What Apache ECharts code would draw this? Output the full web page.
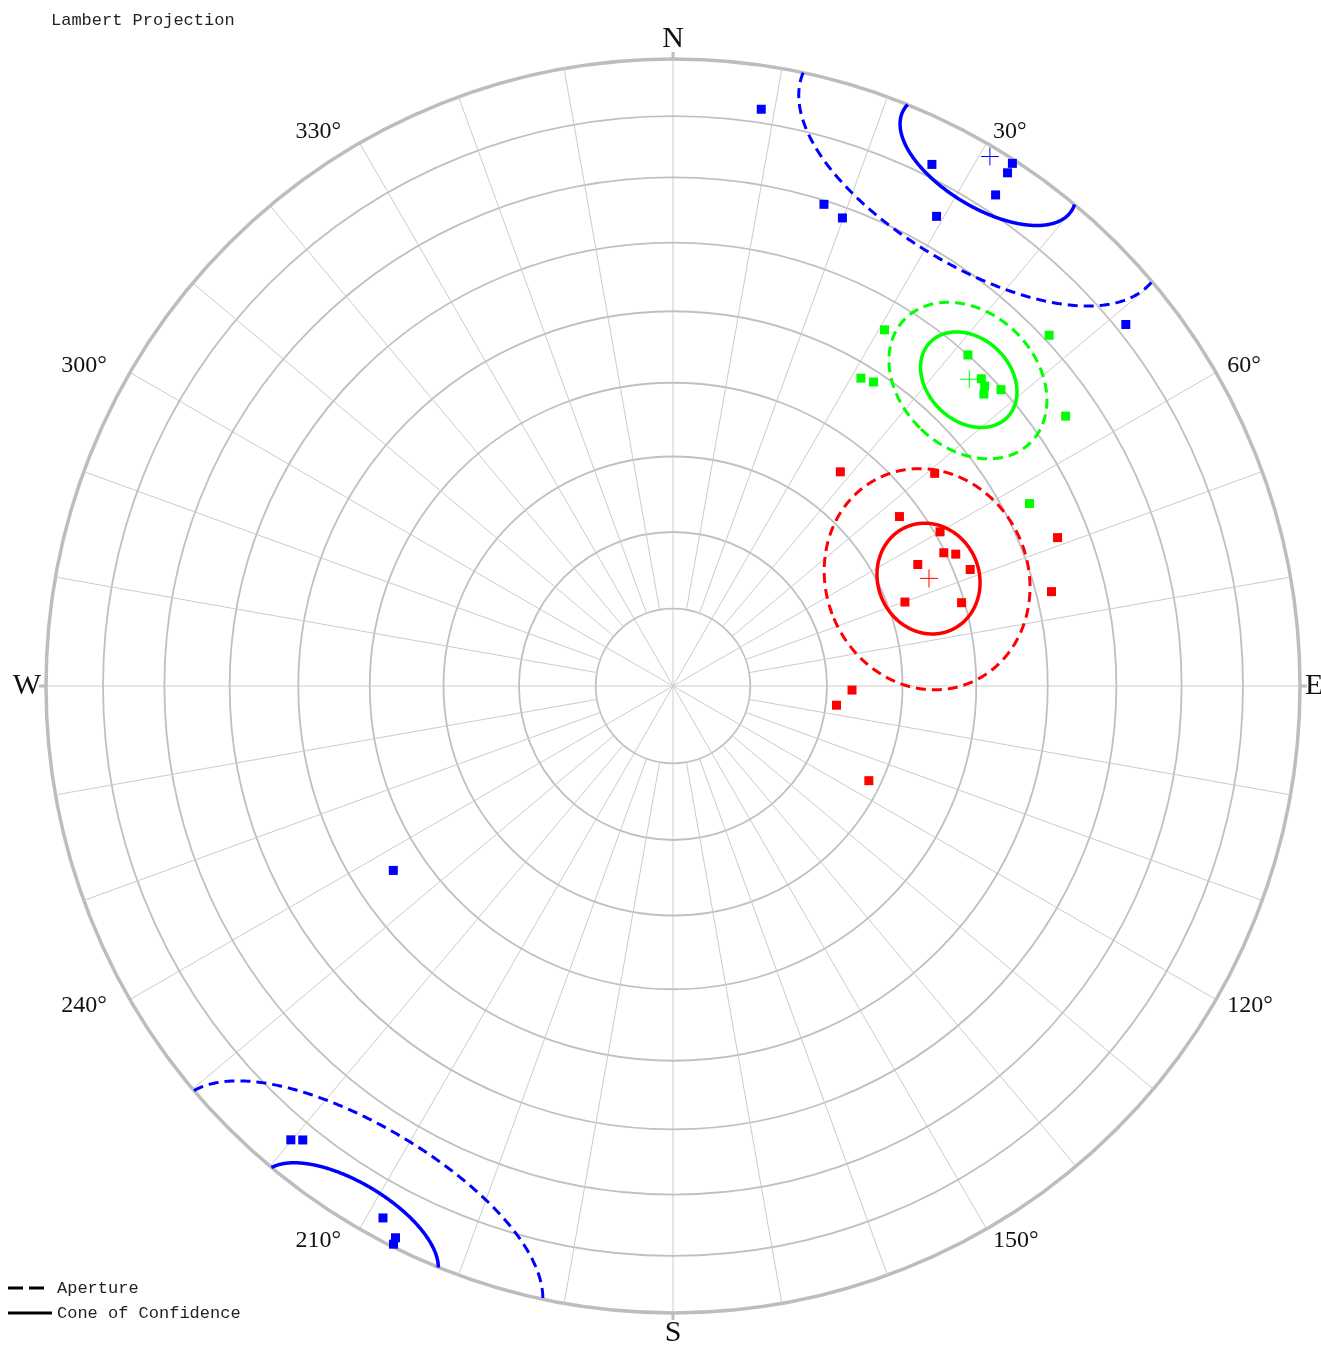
<!DOCTYPE html>
<html>
<head>
<meta charset="utf-8">
<title>Lambert Projection</title>
<script src="https://cdn.jsdelivr.net/npm/echarts@6/dist/echarts.min.js"></script>
<style>
  html, body { margin: 0; padding: 0; background: #fff; }
  #chart { width: 1321px; height: 1345px; }
</style>
</head>
<body>
<div id="chart"></div>
<script>
// directions, [declination, inclination] in degrees
const blueDirs = [
  [8.7, 7.7], [26.4, 7.9], [33.0, 0.7], [33.1, 2.6], [33.3, 7.0],
  [17.4, 20.6], [19.9, 21.7], [29.3, 15.2], [51.4, 8.4], [236.6, 45.6],
  [220.1, 6.0], [219.2, 7.3], [208.6, 3.8], [206.7, 1.7], [206.6, 0.5]
];
const greenDirs = [
  [30.7, 34.3], [47.0, 19.1], [41.7, 30.0], [31.4, 42.0], [33.4, 41.5],
  [45.1, 31.2], [46.1, 31.6], [46.8, 32.5], [47.9, 30.2], [55.5, 25.0],
  [62.9, 36.3]
];
const redDirs = [
  [38.0, 54.3], [50.9, 45.3], [53.2, 52.8], [60.0, 49.3], [63.8, 50.2],
  [65.0, 48.8], [63.6, 54.1], [68.6, 47.8], [68.9, 34.6], [70.1, 57.7],
  [73.9, 50.4], [76.0, 37.8], [91.3, 66.7], [96.7, 68.6], [115.8, 61.6]
];

// group means [dec, inc] and circle radii (degrees)
const groupMeans = [[30.9, 1.8], [44.0, 32.5], [67.2, 53.5]];
const coneAlpha = [9.1, 6.1, 6.9];
const apertureAlpha = [19.0, 10.0, 13.8];
const groupColors = ['#0000ff', '#00ff00', '#ff0000'];
const groupDirs = [blueDirs, greenDirs, redDirs];

// grid
const ringIncs = [80, 70, 60, 50, 40, 30, 20, 10];
const degreeTicks = [30, 60, 120, 150, 210, 240, 300, 330];
const cardinals = { 0: 'N', 90: 'E', 180: 'S', 270: 'W' };

const D2R = Math.PI / 180;
const CX = 673, CY = 686, R = 627;

// equal-area radius, 0 at centre (inc 90) and 1 at the primitive (inc 0)
function lambertR(inc) {
  return Math.SQRT2 * Math.sin((90 - inc) * D2R / 2);
}

// upward directions are plotted at their antipode
function toPolar(dec, inc) {
  if (inc < 0) { dec += 180; inc = -inc; }
  return [lambertR(inc), ((dec % 360) + 360) % 360];
}

// small circle of radius alpha round (dec, inc), split where it crosses the primitive
function smallCircle(dec, inc, alpha) {
  const cd = Math.cos(dec * D2R), sd = Math.sin(dec * D2R);
  const ci = Math.cos(inc * D2R), si = Math.sin(inc * D2R);
  const m = [ci * cd, ci * sd, si];
  const u = [-si * cd, -si * sd, ci];
  const v = [-sd, cd, 0];
  const ca = Math.cos(alpha * D2R), sa = Math.sin(alpha * D2R);
  const pts = [];
  for (let k = 0; k <= 720; k++) {
    const t = k * 0.5 * D2R;
    const p = [0, 1, 2].map(j => ca * m[j] + sa * (Math.cos(t) * u[j] + Math.sin(t) * v[j]));
    pts.push([Math.atan2(p[1], p[0]) / D2R, Math.asin(Math.max(-1, Math.min(1, p[2]))) / D2R]);
  }
  const segs = [];
  let cur = [], up = pts[0][1] < 0;
  const hemi = [];
  for (let k = 0; k < pts.length; k++) {
    const isUp = pts[k][1] < 0;
    if (k > 0 && isUp !== up) {
      const a = pts[k - 1], b = pts[k];
      let db = b[0] - a[0];
      if (db > 180) db -= 360;
      if (db < -180) db += 360;
      const f = a[1] / (a[1] - b[1]);
      const dc = a[0] + f * db;
      cur.push(toPolar(up ? dc + 180 : dc, 0));
      segs.push(cur); hemi.push(up);
      cur = [toPolar(isUp ? dc + 180 : dc, 0)];
      up = isUp;
    }
    cur.push(toPolar(pts[k][0], pts[k][1]));
  }
  segs.push(cur); hemi.push(up);
  if (segs.length > 1 && hemi[0] === hemi[hemi.length - 1]) {
    segs[0] = segs.pop().concat(segs[0]);
  }
  return segs;
}

const series = [];

// grid rings
series.push({
  type: 'custom', coordinateSystem: 'polar', silent: true, z: 1,
  data: ringIncs.map(inc => [lambertR(inc), 0]),
  renderItem(params, api) {
    const c = api.coord([0, 0]);
    const p = api.coord([api.value(0), 0]);
    return {
      type: 'circle',
      shape: { cx: c[0], cy: c[1], r: Math.hypot(p[0] - c[0], p[1] - c[1]) },
      style: { fill: null, stroke: '#c0c0c0', lineWidth: 1.8 }
    };
  }
});

// 10 degree spokes starting at the first ring
const spokeAngles = [];
for (let a = 10; a < 360; a += 10) if (a % 30 !== 0) spokeAngles.push(a);
series.push({
  type: 'custom', coordinateSystem: 'polar', silent: true, z: 1,
  data: spokeAngles.map(a => [lambertR(ringIncs[0]), a]),
  renderItem(params, api) {
    const a = api.value(1);
    const p0 = api.coord([api.value(0), a]);
    const p1 = api.coord([1, a]);
    return {
      type: 'line',
      shape: { x1: p0[0], y1: p0[1], x2: p1[0], y2: p1[1] },
      style: { stroke: '#cccccc', lineWidth: 1 }
    };
  }
});

// outward ticks at N E S W
series.push({
  type: 'custom', coordinateSystem: 'polar', silent: true, z: 2,
  data: Object.keys(cardinals).map(a => [1, +a]),
  renderItem(params, api) {
    const a = api.value(1);
    const p0 = api.coord([1, a]);
    const p1 = api.coord([1.011, a]);
    return {
      type: 'line',
      shape: { x1: p0[0], y1: p0[1], x2: p1[0], y2: p1[1] },
      style: { stroke: '#bdbdbd', lineWidth: 3 }
    };
  }
});

// degree labels
series.push({
  type: 'custom', coordinateSystem: 'polar', silent: true, z: 2,
  data: degreeTicks.map(a => [1, a]),
  renderItem(params, api) {
    const a = api.value(1);
    const p = api.coord([640 / R, a]);
    const right = Math.sin(a * D2R) > 0;
    return {
      type: 'text',
      x: right ? p[0] : p[0] - 12,
      y: p[1],
      style: {
        text: a + '°',
        fontFamily: 'Liberation Serif', fontSize: 24, fill: '#111',
        align: right ? 'left' : 'right', verticalAlign: 'middle'
      }
    };
  }
});

// cones and apertures
[[apertureAlpha, [10, 6], 3], [coneAlpha, null, 3.5]].forEach(([alphas, dash, width]) => {
  series.push({
    type: 'custom', coordinateSystem: 'polar', silent: true, z: 3,
    data: groupMeans.map(m => toPolar(m[0], m[1])),
    renderItem(params, api) {
      const i = params.dataIndex;
      const m = groupMeans[i];
      const segs = smallCircle(m[0], m[1], alphas[i]);
      return {
        type: 'group',
        children: segs.map(seg => ({
          type: 'polyline',
          shape: { points: seg.map(q => api.coord(q)) },
          style: { fill: null, stroke: groupColors[i], lineWidth: width, lineDash: dash }
        }))
      };
    }
  });
});

// directions
groupDirs.forEach((dirs, i) => {
  series.push({
    type: 'scatter', coordinateSystem: 'polar', silent: true, z: 4,
    symbol: 'rect', symbolSize: 9,
    itemStyle: { color: groupColors[i], opacity: 1 },
    data: dirs.map(d => toPolar(d[0], d[1]))
  });
});

// means
groupMeans.forEach((m, i) => {
  series.push({
    type: 'scatter', coordinateSystem: 'polar', silent: true, z: 5,
    symbol: 'path://M0,9L18,9M9,0L9,18', symbolSize: 18,
    itemStyle: { color: 'none', borderColor: groupColors[i], borderWidth: 1, opacity: 1 },
    data: [toPolar(m[0], m[1])]
  });
});

const chart = echarts.init(document.getElementById('chart'));
chart.setOption({
  animation: false,
  backgroundColor: '#fff',
  title: {
    text: 'Lambert Projection', left: 46, top: 7,
    textStyle: { fontFamily: 'Liberation Mono', fontSize: 17, fontWeight: 'normal', color: '#222' }
  },
  polar: { center: [CX, CY], radius: R },
  angleAxis: {
    type: 'value', min: 0, max: 360, interval: 30,
    startAngle: 90, clockwise: true,
    axisLine: { lineStyle: { color: '#bdbdbd', width: 3.5 } },
    axisTick: { show: false },
    splitLine: { show: true, lineStyle: { color: '#cccccc', width: 1 } },
    axisLabel: {
      margin: 5, color: '#111', fontFamily: 'Liberation Serif', fontSize: 30,
      formatter: v => cardinals[v] || ''
    }
  },
  radiusAxis: {
    type: 'value', min: 0, max: 1,
    axisLine: { show: false }, axisTick: { show: false },
    axisLabel: { show: false }, splitLine: { show: false }
  },
  graphic: [
    { type: 'line', shape: { x1: 8, y1: 1288, x2: 44, y2: 1288 },
      style: { stroke: '#000', lineWidth: 3, lineDash: [15, 6] } },
    { type: 'line', shape: { x1: 8, y1: 1313, x2: 52, y2: 1313 },
      style: { stroke: '#000', lineWidth: 3 } },
    { type: 'text', x: 57, y: 1288,
      style: { text: 'Aperture', fontFamily: 'Liberation Mono', fontSize: 17, fill: '#222', verticalAlign: 'middle' } },
    { type: 'text', x: 57, y: 1313,
      style: { text: 'Cone of Confidence', fontFamily: 'Liberation Mono', fontSize: 17, fill: '#222', verticalAlign: 'middle' } }
  ],
  series: series
});
</script>
</body>
</html>
